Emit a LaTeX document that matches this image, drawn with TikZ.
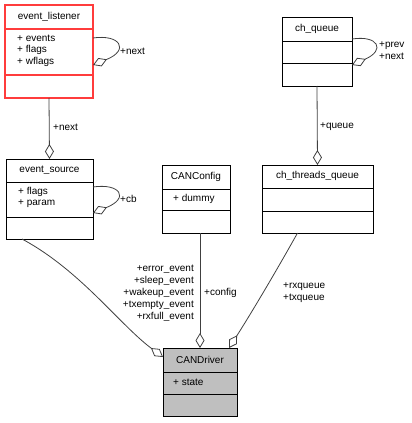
\documentclass[tikz,border=0pt]{standalone}
\usepackage{fontspec}
\setmainfont{Liberation Sans}
\usetikzlibrary{arrows.meta}
\definecolor{linegray}{RGB}{64,64,64}
\definecolor{boxred}{RGB}{255,60,60}
\definecolor{drvgray}{RGB}{191,191,191}
\begin{document}
\begin{tikzpicture}[x=1pt,y=-1pt,
  cls/.style={draw=black, line width=1pt, fill=white, inner sep=0pt, outer sep=0pt, anchor=north west},
  divl/.style={line width=1pt},
  redl/.style={draw=boxred, line width=1.4pt},
  txt/.style={inner sep=0pt, font=\fontsize{10}{12}\selectfont},
  lbl/.style={txt, anchor=west, align=left},
  rel/.style={draw=linegray, line width=0.8pt, -{Diamond[open,length=15pt,width=9pt]}},
]
\useasboundingbox (0,0) rectangle (412,423);

% event_listener
\node[cls, draw=none, minimum width=88pt, minimum height=93pt] (el) at (5,5) {};
\draw[redl] (el.north west) rectangle (el.south east);
\draw[redl] (5,29) -- (93,29) (5,75) -- (93,75);
\node[txt] (elt) at (49,17) {event\_listener};
\node[lbl] (ela) at (17,38) {+ events};
\node[lbl] (elb) at (17,50) {+ flags};
\node[lbl] (elc) at (17,62) {+ wflags};

% ch_queue
\node[cls, minimum width=70pt, minimum height=69pt] (cq) at (282,17) {};
\draw[divl] (282,41) -- (352,41) (282,63) -- (352,63);
\node[txt] (cqt) at (317,29) {ch\_queue};

% event_source
\node[cls, minimum width=87pt, minimum height=80pt] (es) at (6,159) {};
\draw[divl] (6,182) -- (93,182) (6,217) -- (93,217);
\node[txt] (est) at (49.5,170) {event\_source};
\node[lbl] (esa) at (18,192) {+ flags};
\node[lbl] (esb) at (18,204) {+ param};

% CANConfig
\node[cls, minimum width=68pt, minimum height=68pt] (cc) at (162,165) {};
\draw[divl] (162,189) -- (230,189) (162,210) -- (230,210);
\node[txt] (cct) at (196,177) {CANConfig};
\node[lbl] (cca) at (173,199) {+ dummy};

% ch_threads_queue
\node[cls, minimum width=111pt, minimum height=68pt] (ctq) at (262,165) {};
\draw[divl] (262,188) -- (373,188) (262,211) -- (373,211);
\node[txt] (ctqt) at (317.5,176) {ch\_threads\_queue};

% CANDriver
\node[cls, fill=drvgray, minimum width=74pt, minimum height=68pt] (cd) at (163,348) {};
\draw[divl] (163,372) -- (237,372) (163,394) -- (237,394);
\node[txt] (cdt) at (200,360) {CANDriver};
\node[lbl] (cda) at (173,382) {+ state};

% relations
\draw[rel] ([yshift=-33pt]el.north east) .. controls (120,34) and (130,50) .. ([yshift=-60pt]el.north east);
\node[lbl] (l1) at (120,51) {+next};

\draw[rel] ([yshift=-22pt]cq.north east) .. controls (378,35) and (386,50) .. ([yshift=-48pt]cq.north east);
\node[lbl] (l2) at (379,51) {+prev\\+next};

\draw[rel] ([yshift=-28pt]es.north east) .. controls (120,183) and (130,198) .. ([yshift=-54pt]es.north east);
\node[lbl] (l3) at (120,199) {+cb};

\draw[rel] (el.south) -- (es.north);
\node[lbl] (l4) at (53,127) {+next};

\draw[rel] (cq.south) -- (ctq.north);
\node[lbl] (l5) at (320,127) {+queue};

\draw[rel] ([xshift=16pt]es.south west) .. controls (80,270) and (120,325) .. ([yshift=-9pt]cd.north west);
\node[txt, anchor=east, align=right] (l6) at (194,293) {+error\_event\\+sleep\_event\\+wakeup\_event\\+txempty\_event\\+rxfull\_event};

\draw[rel] (cc.south -| cd.north) -- (cd.north);
\node[lbl] (l7) at (204,293) {+config};

\draw[rel] ([xshift=-20pt]ctq.south) .. controls (278,268) and (252,312) .. ([xshift=-8pt]cd.north east);
\node[lbl] (l8) at (283,293) {+rxqueue\\+txqueue};
\end{tikzpicture}
\end{document}
